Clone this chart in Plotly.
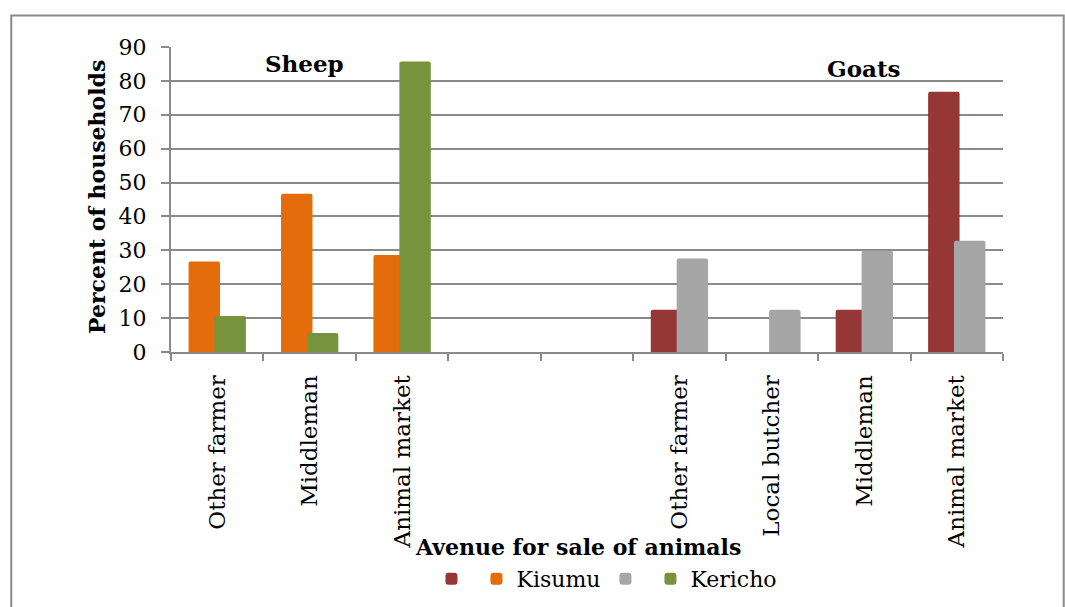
import plotly.graph_objects as go

categories = ["Other farmer", "Middleman", "Animal market", "", "",
              "Other farmer", "Local butcher", "Middleman", "Animal market"]
goat_kisumu = [None, None, None, None, None, 12.5, 0, 12.5, 76.8]
sheep_kisumu = [26.7, 46.7, 28.6, None, None, None, None, None, None]
goat_kericho = [None, None, None, None, None, 27.6, 12.5, 29.9, 32.8]
sheep_kericho = [10.6, 5.6, 85.7, None, None, None, None, None, None]
y_ticks = [0, 10, 20, 30, 40, 50, 60, 70, 80, 90]

xs = list(range(len(categories)))
SERIF = "DejaVu Serif"
GRID = "#8a8a8a"

fig = go.Figure()
series = [
    ("", goat_kisumu, "#953735", -0.31),
    ("Kisumu", sheep_kisumu, "#E46C0A", -0.31),
    ("", goat_kericho, "#A6A6A6", -0.03),
    ("Kericho", sheep_kericho, "#77933C", -0.03),
]
for name, vals, col, off in series:
    fig.add_trace(go.Bar(x=xs, y=vals, name=name, width=0.34, offset=off,
                         marker=dict(color=col, line=dict(width=0))))

fig.update_layout(
    width=1065, height=607,
    margin=dict(l=171, r=62, t=47, b=255, autoexpand=False),
    paper_bgcolor="white", plot_bgcolor="white",
    barmode="overlay", barcornerradius=2,
    font=dict(family=SERIF, color="black"),
    showlegend=True,
    legend=dict(orientation="h", x=0.524, xanchor="center", y=-0.744, yanchor="middle",
                font=dict(size=22, family=SERIF), itemwidth=30, traceorder="normal"),
    xaxis=dict(range=[-0.5, len(categories) - 0.5], tickvals=xs, ticktext=categories,
               tickangle=-90, ticks="", showgrid=False, showline=True, linecolor=GRID,
               linewidth=2, tickfont=dict(size=23, family=SERIF), zeroline=False,
               ticklabelstandoff=12,
               minor=dict(ticks="outside", ticklen=7, tickcolor=GRID, tickwidth=2,
                          tick0=-0.5, dtick=1, showgrid=False)),
    yaxis=dict(range=[0, 90], tickvals=y_ticks, showgrid=True, gridcolor=GRID, gridwidth=2,
               showline=True, linecolor=GRID, linewidth=2, ticks="outside", ticklen=8,
               tickcolor=GRID, tickwidth=2, zeroline=False, ticklabelstandoff=10,
               tickfont=dict(size=22, family=SERIF)),
)

fig.add_annotation(text="<b>Sheep</b>", x=0.94, y=85.2, xref="x", yref="y",
                   xanchor="center", yanchor="middle",
                   showarrow=False, font=dict(size=23, family=SERIF))
fig.add_annotation(text="<b>Goats</b>", x=6.99, y=83.8, xref="x", yref="y",
                   xanchor="center", yanchor="middle",
                   showarrow=False, font=dict(size=23, family=SERIF))
fig.add_annotation(text="<b>Avenue for sale of animals</b>", x=0.489, y=-0.64,
                   xref="paper", yref="paper", xanchor="center", yanchor="middle",
                   showarrow=False, font=dict(size=22, family=SERIF))
fig.add_annotation(text="<b>Percent of households</b>", x=-0.089, y=0.508,
                   xref="paper", yref="paper", xanchor="center", yanchor="middle",
                   showarrow=False, textangle=-90,
                   font=dict(size=22, family=SERIF))
fig.add_shape(type="rect", xref="paper", yref="paper", x0=-0.192, x1=1.073,
              y0=-0.9, y1=1.103, line=dict(color=GRID, width=2), layer="below")

fig.write_html("out.html")
